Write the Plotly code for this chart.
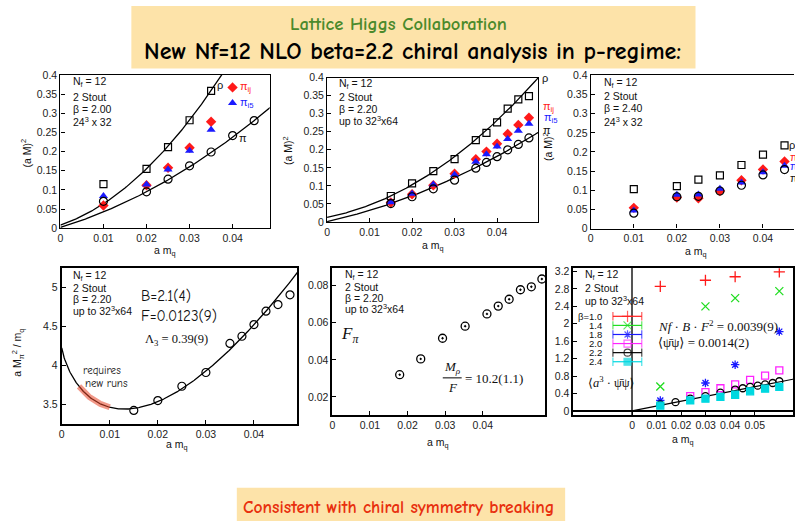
import numpy as np
import plotly.graph_objects as go

W, H = 795, 529
SANS = "Liberation Sans, Arial, sans-serif"
SERIF = "Liberation Serif, DejaVu Serif, serif"
COMIC = "Comic Sans MS, Comic Neue, Open Sans, sans-serif"

# ---------------- data ----------------
# beta = 2.00, 24^3 x 32
B200_MQ = [0.01, 0.02, 0.025, 0.03, 0.035]
B200_RHO = [0.115, 0.155, 0.212, 0.282, 0.359]
B200_PIIJ = [0.059, 0.112, 0.158, 0.210, 0.278]
B200_PII5 = [0.084, 0.114, 0.153, 0.202, 0.257]
B200_PI_MQ = [0.01, 0.02, 0.025, 0.03, 0.035, 0.04, 0.045]
B200_PI = [0.070, 0.095, 0.128, 0.163, 0.199, 0.242, 0.281]
B200_RHO_FIT = [0.008, 3.78, 178.6]   # a + b*m + c*m^2
B200_PI_FIT = [0.002, 3.41, 62.0]

# beta = 2.20, up to 32^3 x 64
B220_MQ = [0.015, 0.02, 0.025, 0.03, 0.035, 0.0375, 0.04, 0.0425, 0.045, 0.0475]
B220_RHO = [0.072, 0.107, 0.141, 0.174, 0.227, 0.247, 0.276, 0.314, 0.340, 0.349]
B220_PIIJ = [0.054, 0.077, 0.102, 0.134, 0.174, 0.195, 0.217, 0.244, 0.269, 0.289]
B220_PII5 = [0.055, 0.078, 0.104, 0.131, 0.167, 0.188, 0.209, 0.230, 0.253, 0.272]
B220_PI = [0.051, 0.070, 0.092, 0.116, 0.149, 0.165, 0.181, 0.200, 0.215, 0.233]
B220_RHO_FIT = [0.013, 2.27, 111.0]
B220_PI_FIT = [0.001, 2.622, 47.4]

# beta = 2.40, 24^3 x 32
B240_MQ = [0.01, 0.02, 0.025, 0.03, 0.035, 0.04, 0.045]
B240_RHO = [0.103, 0.111, 0.128, 0.139, 0.166, 0.193, 0.217]
B240_PIIJ = [0.054, 0.081, 0.079, 0.098, 0.126, 0.154, 0.175]
B240_PII5 = [0.047, 0.088, 0.089, 0.104, 0.120, 0.147, 0.164]
B240_PI = [0.040, 0.083, 0.084, 0.098, 0.113, 0.140, 0.154]

# M_pi^2 / m_q at beta = 2.20 with NLO fit  A + B*m*ln(m) + C*m
MPI2_MQ = B220_MQ
MPI2_RATIO = [3.42, 3.546, 3.731, 3.908, 4.282, 4.374, 4.525, 4.697, 4.782, 4.908]
MPI2_FIT = [4.23, 60.8, 203.0]
NEW_RUNS_RANGE = [0.0036, 0.01]

# F_pi at beta = 2.20
FPI_MQ = [0.0179, 0.0235, 0.0293, 0.0353, 0.0411, 0.0441, 0.0470, 0.0500, 0.0529, 0.0557]
FPI = [0.0320, 0.0405, 0.0516, 0.0581, 0.0647, 0.0689, 0.0726, 0.0777, 0.0793, 0.0835]

# chiral condensate <a^3 psibar psi> for several beta
PBP_BETAS = ["β=1.0", "1.4", "1.8", "2.0", "2.2", "2.4"]
PBP_MQ = [
    [0.0115, 0.0299, 0.042, 0.06],
    [0.0115, 0.0299, 0.042, 0.06],
    [0.0115, 0.0299, 0.042, 0.06],
    [0.0237, 0.0299, 0.036, 0.042, 0.0481, 0.0542, 0.06],
    [0.0115, 0.0177, 0.0237, 0.0299, 0.036, 0.042, 0.0451, 0.0481, 0.0512, 0.0542, 0.0573, 0.06],
    [0.0115, 0.0237, 0.0299, 0.036, 0.042, 0.0481, 0.0542, 0.06],
]
PBP = [
    [2.86, 3.00, 3.08, 3.19],
    [0.56, 2.40, 2.59, 2.75],
    [0.24, 0.64, 1.06, 1.82],
    [0.34, 0.43, 0.52, 0.61, 0.71, 0.81, 0.93],
    [0.15, 0.20, 0.28, 0.34, 0.42, 0.49, 0.52, 0.55, 0.58, 0.61, 0.64, 0.68],
    [0.12, 0.24, 0.28, 0.32, 0.37, 0.45, 0.51, 0.55],
]
PBP_FIT_SLOPE = 11.1

# tick labels
TICKS_MQ = [0, 0.01, 0.02, 0.03, 0.04]
TICKS_MQ6 = [0, 0.01, 0.02, 0.03, 0.04, 0.05]
TICKS_M2 = [0, 0.05, 0.1, 0.15, 0.2, 0.25, 0.3, 0.35, 0.4]
TICKS_RATIO = [3.5, 4, 4.5, 5]
TICKS_FPI = [0.02, 0.04, 0.06, 0.08]
TICKS_PBP = [0, 0.4, 0.8, 1.2, 1.6, 2, 2.4, 2.8, 3.2]

# ---------------- styling ----------------
RED, BLUE, GREEN, MAGENTA, CYAN = "#ff1a1a", "#1a1aff", "#22dd22", "#ff22ff", "#00d8e0"
PBP_COLORS = [RED, GREEN, BLUE, MAGENTA, "#000000", CYAN]
PBP_SYMBOLS = ["cross-thin", "x-thin", "asterisk", "square-open", "circle-open", "square"]
PBP_SIZES = [8, 8, 7, 7, 7, 7]


def px(x):
    return x / W


def py(y):
    return 1 - y / H


def xdom(a, b):
    return [px(a), px(b)]


def ydom(top, bottom):
    return [py(bottom), py(top)]


def poly(c, m):
    return c[0] + c[1] * m + c[2] * m ** 2


def nlo(c, m):
    return c[0] + c[1] * m * np.log(m) + c[2] * m


fig = go.Figure()


def add(tr, n):
    tr.update(xaxis="x" if n == 1 else f"x{n}", yaxis="y" if n == 1 else f"y{n}",
              showlegend=False, hoverinfo="skip")
    fig.add_trace(tr)


def mass_panel(n, mq, rho, piij, pii5, pi_mq, pi, rho_fit=None, pi_fit=None, xmax=0.05):
    if rho_fit is not None:
        m = np.linspace(0, xmax, 200)
        add(go.Scatter(x=m, y=poly(rho_fit, m), mode="lines", line=dict(color="black", width=1.3)), n)
        add(go.Scatter(x=m, y=poly(pi_fit, m), mode="lines", line=dict(color="black", width=1.3)), n)
    add(go.Scatter(x=mq, y=rho, mode="markers",
                   marker=dict(symbol="square-open", size=7, color="black", line=dict(width=1.2, color="black"))), n)
    add(go.Scatter(x=mq, y=piij, mode="markers",
                   marker=dict(symbol="diamond", size=8, color=RED, line=dict(width=0))), n)
    add(go.Scatter(x=mq, y=pii5, mode="markers",
                   marker=dict(symbol="triangle-up", size=8, color=BLUE, line=dict(width=0))), n)
    add(go.Scatter(x=pi_mq, y=pi, mode="markers",
                   marker=dict(symbol="circle-open", size=8, color="black", line=dict(width=1.2, color="black"))), n)


mass_panel(1, B200_MQ, B200_RHO, B200_PIIJ, B200_PII5, B200_PI_MQ, B200_PI, B200_RHO_FIT, B200_PI_FIT)
mass_panel(2, B220_MQ, B220_RHO, B220_PIIJ, B220_PII5, B220_MQ, B220_PI, B220_RHO_FIT, B220_PI_FIT)
mass_panel(3, B240_MQ, B240_RHO, B240_PIIJ, B240_PII5, B240_MQ, B240_PI)

# panel 4: M_pi^2/m_q with NLO curve
m4 = np.linspace(1e-5, 0.05, 400)
add(go.Scatter(x=m4, y=nlo(MPI2_FIT, m4), mode="lines", line=dict(color="black", width=1.3)), 4)
mr = np.linspace(NEW_RUNS_RANGE[0], NEW_RUNS_RANGE[1], 60)
add(go.Scatter(x=mr, y=nlo(MPI2_FIT, mr), mode="lines",
               line=dict(color="rgba(232,70,40,0.55)", width=6)), 4)
add(go.Scatter(x=MPI2_MQ, y=MPI2_RATIO, mode="markers",
               marker=dict(symbol="circle-open", size=8, color="black", line=dict(width=1.2, color="black"))), 4)

# panel 5: F_pi
add(go.Scatter(x=FPI_MQ, y=FPI, mode="markers",
               marker=dict(symbol="circle-open-dot", size=8, color="black", line=dict(width=1.3, color="black"))), 5)

# panel 6: chiral condensate
m6 = np.linspace(0, 0.07, 50)
add(go.Scatter(x=m6, y=PBP_FIT_SLOPE * m6, mode="lines", line=dict(color="black", width=1.2)), 6)
for k in range(len(PBP)):
    col = PBP_COLORS[k]
    add(go.Scatter(x=PBP_MQ[k], y=PBP[k], mode="markers",
                   marker=dict(symbol=PBP_SYMBOLS[k], size=PBP_SIZES[k], color=col,
                               line=dict(width=1.3, color=col))), 6)

# key samples on a pixel-space overlay axis
KEY1 = [(230.7, 83.3, "diamond", RED), (230.7, 99.3, "triangle-up", BLUE)]
for kx, ky, sym, col in KEY1:
    add(go.Scatter(x=[kx], y=[ky], mode="markers",
                   marker=dict(symbol=sym, size=8, color=col, line=dict(width=0))), 7)

KEY6_X = [613, 627.7, 642]
KEY6_Y = [317.5, 326.8, 336.1, 345.4, 354.7, 364.0]
for k, ky in enumerate(KEY6_Y):
    col = PBP_COLORS[k]
    add(go.Scatter(x=KEY6_X, y=[ky] * 3, mode="lines+markers",
                   line=dict(color=col, width=1.2),
                   marker=dict(symbol=["line-ns", PBP_SYMBOLS[k], "line-ns"],
                               size=[6, PBP_SIZES[k], 6], color=col,
                               line=dict(width=1.2, color=col))), 7)

# ---------------- axes ----------------
def axis(dom, rng, tickvals, lw=1.2, mirror=True, **kw):
    d = dict(domain=dom, range=rng, tickvals=tickvals, showline=True, linecolor="black",
             linewidth=lw, mirror=mirror, ticks="inside", ticklen=4, tickcolor="black",
             showgrid=False, zeroline=False, tickfont=dict(family=SANS, size=10.5, color="#222"))
    d.update(kw)
    return d


lay = dict(
    xaxis=axis(xdom(57.7, 268), [0, 0.0486], TICKS_MQ, anchor="y"),
    yaxis=axis(ydom(70.7, 227.3), [0, 0.4], TICKS_M2, anchor="x"),
    xaxis2=axis(xdom(325.7, 538), [0, 0.0497], TICKS_MQ, anchor="y2"),
    yaxis2=axis(ydom(73.3, 221), [0, 0.4], TICKS_M2, anchor="x2"),
    xaxis3=axis(xdom(590.7, 795), [0, 0.0472], TICKS_MQ, anchor="y3"),
    yaxis3=axis(ydom(71, 227.7), [0, 0.4], TICKS_M2, anchor="x3", mirror=False),
    xaxis4=axis(xdom(59, 295.7), [0, 0.049], TICKS_MQ, lw=1.8, anchor="y4"),
    yaxis4=axis(ydom(268.3, 427.3), [3.25, 5.25], TICKS_RATIO, lw=1.8, anchor="x4"),
    xaxis5=axis(xdom(331, 545), [0, 0.0566], TICKS_MQ, lw=1.8, anchor="y5"),
    yaxis5=axis(ydom(268.3, 418.3), [0.0104, 0.0893], TICKS_FPI, lw=1.8, anchor="x5"),
    xaxis6=axis(xdom(573.3, 794.3), [-0.0239, 0.0657], TICKS_MQ6, lw=1.8, anchor="y6",
                zeroline=True, zerolinecolor="#555", zerolinewidth=2),
    yaxis6=axis(ydom(268.3, 418.3), [-0.09, 3.276], TICKS_PBP, lw=1.8, anchor="x6",
                zeroline=True, zerolinecolor="black", zerolinewidth=1.5),
    xaxis7=dict(domain=[0, 1], range=[0, W], visible=False, anchor="y7"),
    yaxis7=dict(domain=[0, 1], range=[H, 0], visible=False, anchor="x7"),
)

# ---------------- text ----------------
annotations = []


def ann(text, x, y, size=10.5, color="#111", xanchor="left", yanchor="middle",
        family=SANS, angle=0, weight="normal"):
    annotations.append(dict(text=text, x=px(x), y=py(y), xref="paper", yref="paper",
                            xanchor=xanchor, yanchor=yanchor, showarrow=False, textangle=angle,
                            font=dict(family=family, size=size, color=color, weight=weight)))


# titles
ann("Lattice Higgs Collaboration", 398, 18, size=18.5, color="#4b8a2c", xanchor="center",
    family=COMIC, weight=600)
ann("New Nf=12 NLO beta=2.2 chiral analysis in p-regime:", 412, 46, size=24, color="#000",
    xanchor="center", family=COMIC, weight="bold")
ann("Consistent with chiral symmetry breaking", 397, 513, size=17.5, color="#e8300e",
    xanchor="center", family=COMIC, weight="bold")

# axis titles
for x, y in [(23, 150), (285.7, 148), (547, 144)]:
    ann("(a M)<sup>2</sup>", x, y, angle=-90, xanchor="center")
ann("a M<sub>π</sub><sup>2</sup> / m<sub>q</sub>", 15, 355, angle=-90, xanchor="center")
for x, y in [(163, 251), (431.7, 246), (696.7, 252), (175, 449), (436.7, 446.7), (683.3, 444.5)]:
    ann("a m<sub>q</sub>", x, y, xanchor="center")

# run parameters
INFO = {
    1: (68, [78, 92.7, 105, 118.3], ["N<sub>f</sub> = 12", "2 Stout", "β = 2.00", "24<sup>3</sup> x 32"]),
    2: (336, [80, 93.3, 105, 117], ["N<sub>f</sub> = 12", "2 Stout", "β = 2.20", "up to 32<sup>3</sup>x64"]),
    3: (601.7, [79, 92.3, 104.3, 118.3], ["N<sub>f</sub> = 12", "2 Stout", "β = 2.40", "24<sup>3</sup> x 32"]),
    4: (68, [276.7, 288.3, 300, 311.7], ["N<sub>f</sub> = 12", "2 Stout", "β = 2.20", "up to 32<sup>3</sup>x64"]),
    5: (341.5, [275, 287.3, 298.3, 310], ["N<sub>f</sub> = 12", "2 Stout", "β = 2.20", "up to 32<sup>3</sup>x64"]),
    6: (583, [275, 288.3, 301.7], ["N<sub>f</sub> = 12", "2 Stout", "up to 32<sup>3</sup>x64"]),
}
for x0, ys, lines in INFO.values():
    for y, t in zip(ys, lines):
        ann(t, x0, y, size=10.5)

# curve labels
ann("ρ", 213, 80.7, size=11)
ann("π<sub>ij</sub>", 236, 83.3, size=11, color=RED)
ann("π<sub>i5</sub>", 236, 99.3, size=11, color=BLUE)
ann("π", 235, 135, size=11)
ann("ρ", 540, 74, size=11)
ann("π<sub>ij</sub>", 541, 103, size=11, color=RED)
ann("π<sub>i5</sub>", 542, 115, size=11, color=BLUE)
ann("π", 541, 126.5, size=11)
ann("ρ", 788, 142.7, size=11)
ann("π<sub>ij</sub>", 789, 155.7, size=11, color=RED)
ann("π<sub>i5</sub>", 789, 165, size=11, color=BLUE)
ann("π", 789, 176, size=11)

# fit results
ann("B=2.1(4)", 137, 297, size=15, family=COMIC)
ann("F=0.0123(9)", 137, 317, size=15, family=COMIC)
ann("Λ<sub>3</sub> = 0.39(9)", 141, 342, size=12.5, family=SERIF)
ann("requires", 99, 373, size=11, family=COMIC, xanchor="center")
ann("new runs", 104, 386, size=11, family=COMIC, xanchor="center")

ann("<i>F<sub>π</sub></i>", 338, 337, size=17, family=SERIF)
ann("<i>M<sub>ρ</sub></i>", 452, 370, size=13, family=SERIF, xanchor="center")
ann("<i>F</i>", 452, 390, size=13, family=SERIF, xanchor="center")
ann("= 10.2(1.1)", 462, 381, size=13, family=SERIF)

for k, ky in enumerate(KEY6_Y):
    ann(PBP_BETAS[k], 604, ky, size=9.5, xanchor="right")
ann("<i>Nf</i> · <i>B</i> · <i>F</i><sup>2</sup> = 0.0039(9)", 656, 327, size=13, family=SERIF)
ann("⟨ψ̄ψ⟩ = 0.0014(2)", 656, 344, size=13, family=SERIF)
ann("⟨<i>a</i><sup>3</sup> · ψ̄ψ⟩", 611, 385, size=12.5, family=SERIF, xanchor="center")

shapes = [
    dict(type="rect", xref="paper", yref="paper", x0=px(129), x1=px(696), y0=py(64), y1=py(0),
         fillcolor="#fde3a9", line=dict(width=0), layer="below"),
    dict(type="rect", xref="paper", yref="paper", x0=px(235), x1=px(565), y0=py(527), y1=py(493),
         fillcolor="#fde3a9", line=dict(width=0), layer="below"),
    dict(type="line", xref="paper", yref="paper", x0=px(442), x1=px(461), y0=py(380.5), y1=py(380.5),
         line=dict(color="black", width=1)),
]

fig.update_layout(
    width=W, height=H, margin=dict(l=0, r=0, t=0, b=0),
    paper_bgcolor="white", plot_bgcolor="rgba(0,0,0,0)",
    showlegend=False, annotations=annotations, shapes=shapes, **lay,
)

fig.write_html("out.html")
